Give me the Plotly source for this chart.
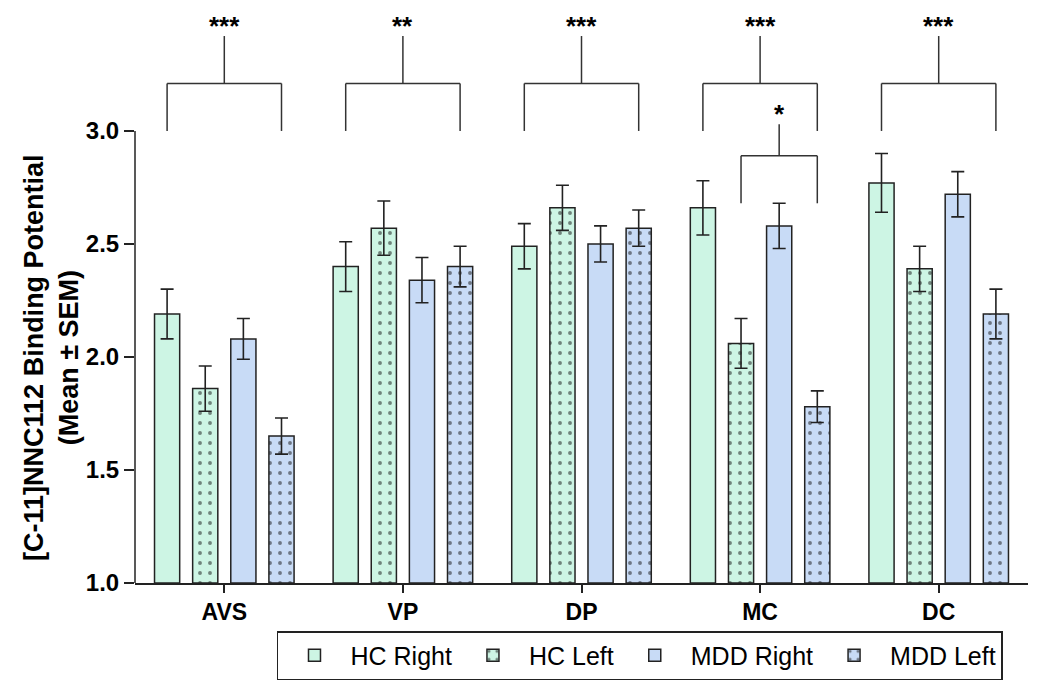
import plotly.graph_objects as go

# Regions and group means / SEM
categories = ["AVS", "VP", "DP", "MC", "DC"]

hc_right = [2.19, 2.40, 2.49, 2.66, 2.77]
hc_right_sem = [0.11, 0.11, 0.10, 0.12, 0.13]
hc_left = [1.86, 2.57, 2.66, 2.06, 2.39]
hc_left_sem = [0.10, 0.12, 0.10, 0.11, 0.10]
mdd_right = [2.08, 2.34, 2.50, 2.58, 2.72]
mdd_right_sem = [0.09, 0.10, 0.08, 0.10, 0.10]
mdd_left = [1.65, 2.40, 2.57, 1.78, 2.19]
mdd_left_sem = [0.08, 0.09, 0.08, 0.07, 0.11]

series_names = ["HC Right", "HC Left", "MDD Right", "MDD Left"]

# significance brackets: category, left bar, right bar, label, leg bottom, bar height, stem top
sig_category = [0, 1, 2, 3, 4, 3]
sig_left = ["HC Right", "HC Right", "HC Right", "HC Right", "HC Right", "HC Left"]
sig_right = ["MDD Left", "MDD Left", "MDD Left", "MDD Left", "MDD Left", "MDD Left"]
sig_label = ["***", "**", "***", "***", "***", "*"]
sig_leg_bottom = [3.0, 3.0, 3.0, 3.0, 3.0, 2.68]
sig_bar = [3.21, 3.21, 3.21, 3.21, 3.21, 2.89]
sig_stem_top = [3.42, 3.42, 3.42, 3.42, 3.42, 3.03]

hc_color = "#cdf5e4"
mdd_color = "#c8dbf6"
ink = "#222222"
font_family = "Liberation Sans, Arial, sans-serif"

bargap = 0.146
bargroupgap = 0.34

x = list(range(len(categories)))
values = [hc_right, hc_left, mdd_right, mdd_left]
sems = [hc_right_sem, hc_left_sem, mdd_right_sem, mdd_left_sem]
fills = [hc_color, hc_color, mdd_color, mdd_color]
dotted = [False, True, False, True]

fig = go.Figure()

for name, vals, sem, fill, dots in zip(series_names, values, sems, fills, dotted):
    pattern = dict(shape=".", fgcolor="#111111", bgcolor=fill, size=10, solidity=0.12) if dots else dict(shape="")
    fig.add_trace(go.Bar(
        x=x, y=[v - 1.0 for v in vals], base=1.0, name=name,
        marker=dict(color=fill, line=dict(color=ink, width=1.5), pattern=pattern),
        error_y=dict(type="data", array=sem, visible=True, color=ink, thickness=1.6, width=6.5),
    ))

# where each bar sits inside its group
slot = (1 - bargap) / len(series_names)
offsets = {n: -(1 - bargap) / 2 + slot * (i + 0.5) for i, n in enumerate(series_names)}

shapes = []
annotations = []
line_style = dict(color="#333333", width=1.5)
for cat, left, right, label, bottom, bar_y, stem in zip(sig_category, sig_left, sig_right, sig_label,
                                                         sig_leg_bottom, sig_bar, sig_stem_top):
    x0 = cat + offsets[left]
    x1 = cat + offsets[right]
    xm = (x0 + x1) / 2
    shapes.append(dict(type="line", xref="x", yref="y", x0=x0, x1=x0, y0=bottom, y1=bar_y, line=line_style))
    shapes.append(dict(type="line", xref="x", yref="y", x0=x1, x1=x1, y0=bottom, y1=bar_y, line=line_style))
    shapes.append(dict(type="line", xref="x", yref="y", x0=x0, x1=x1, y0=bar_y, y1=bar_y, line=line_style))
    shapes.append(dict(type="line", xref="x", yref="y", x0=xm, x1=xm, y0=bar_y, y1=stem, line=line_style))
    annotations.append(dict(x=xm, y=stem, xref="x", yref="y", text="<b>" + label + "</b>", showarrow=False,
                            yanchor="bottom", yshift=-7, font=dict(size=26, color="black", family=font_family)))

# y axis line only spans 1.0 - 3.0
shapes.append(dict(type="line", xref="paper", yref="y", x0=0, x1=0, y0=1.0, y1=3.0,
                   line=dict(color=ink, width=1.5)))

annotations.append(dict(
    x=-0.093, y=2.0, xref="paper", yref="y", xanchor="center", yanchor="middle",
    textangle=-90, showarrow=False,
    text="<b>[C-11]NNC112 Binding Potential</b><br><b>(Mean \u00b1 SEM)</b>",
    font=dict(size=27, color="black", family=font_family),
))

# page body has an 8px margin, so the figure is shrunk by that much
fig.update_layout(
    width=1042, height=689,
    margin=dict(l=127, r=22, t=0, b=114),
    plot_bgcolor="white", paper_bgcolor="white",
    barmode="group", bargap=bargap, bargroupgap=bargroupgap,
    font=dict(family=font_family, color="black"),
    shapes=shapes, annotations=annotations,
    legend=dict(
        orientation="h", x=0.159, y=-0.0835, xanchor="left", yanchor="top",
        font=dict(size=25, color="black", family=font_family),
        bordercolor=ink, borderwidth=1.5, itemwidth=62,
    ),
    showlegend=True,
)

fig.update_xaxes(
    range=[-0.5, 4.5], tickvals=x, ticktext=["<b>" + c + "</b>" for c in categories],
    showline=True, linecolor=ink, linewidth=1.5, ticks="outside", ticklen=8, tickwidth=1.5, tickcolor=ink,
    tickfont=dict(size=23, family=font_family), showgrid=False, zeroline=False,
)
fig.update_yaxes(
    range=[1.0, 3.544], tickvals=[1.0, 1.5, 2.0, 2.5, 3.0],
    ticktext=["<b>%.1f</b>" % v for v in [1.0, 1.5, 2.0, 2.5, 3.0]],
    showline=False, ticks="outside", ticklen=10, tickwidth=1.5, tickcolor=ink,
    tickfont=dict(size=24, family=font_family), showgrid=False, zeroline=False,
)

fig.write_html("out.html")
